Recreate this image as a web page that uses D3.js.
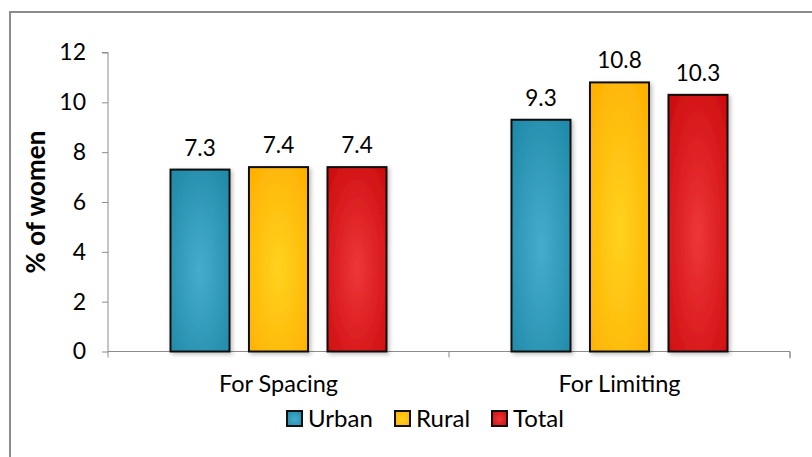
<!DOCTYPE html>
<html><head><meta charset="utf-8">
<script src="https://cdn.jsdelivr.net/npm/d3@7"></script>
<style>body{margin:0;background:#fff}svg{display:block}</style>
</head><body>
<script>
const categories = ["For Spacing", "For Limiting"];
const seriesNames = ["Urban", "Rural", "Total"];
const urban = [7.3, 9.3];
const rural = [7.4, 10.8];
const total = [7.4, 10.3];
const yTicks = [0, 2, 4, 6, 8, 10, 12];
const yTitle = "% of women";

const W = 812, H = 457;
const font = "'Gill Sans','Gill Sans MT',Lato,sans-serif";
const svg = d3.select("body").append("svg").attr("width", W).attr("height", H);

const colors = {
  Urban: {edge: "#1E87A6", mid: "#45ACCD"},
  Rural: {edge: "#FFAE00", mid: "#FFD21E"},
  Total: {edge: "#CB0A0C", mid: "#EE3638"}
};
const defs = svg.append("defs");
seriesNames.forEach(s => {
  const g = defs.append("radialGradient").attr("id", "g" + s)
    .attr("cx", "50%").attr("cy", "55%").attr("r", "75%");
  g.append("stop").attr("offset", "0%").attr("stop-color", colors[s].mid);
  g.append("stop").attr("offset", "100%").attr("stop-color", colors[s].edge);
});
const f = defs.append("filter").attr("id", "sh").attr("x", "-20%").attr("y", "-10%").attr("width", "150%").attr("height", "130%");
f.append("feDropShadow").attr("dx", 2).attr("dy", 2).attr("stdDeviation", 2).attr("flood-color", "#000").attr("flood-opacity", 0.25);

// outer border
svg.append("rect").attr("x", 10).attr("y", 12).attr("width", W + 20).attr("height", H + 20)
  .attr("fill", "none").attr("stroke", "#8c8c8c").attr("stroke-width", 2);

const m = {left: 108, right: 790, top: 52.5, bottom: 351.5};
const x0 = d3.scaleBand().domain(categories).range([m.left, m.right]);
const x1 = d3.scaleBand().domain(seriesNames).range([0, x0.bandwidth()]).paddingInner(0.248).paddingOuter(0.796);
const y = d3.scaleLinear().domain([0, 12]).range([m.bottom, m.top]);

// y axis
const yAxis = svg.append("g").attr("transform", `translate(${m.left},0)`)
  .call(d3.axisLeft(y).tickValues(yTicks).tickSize(6).tickPadding(16).tickFormat(d3.format("d")));
yAxis.select(".domain").attr("stroke", "#8c8c8c").attr("d", `M-6,${m.top}H0V${m.bottom}`);
yAxis.selectAll(".tick line").attr("stroke", "#8c8c8c");
yAxis.selectAll("text").attr("font-family", font).attr("font-size", 23).attr("fill", "#000");

// x axis
const xAxis = svg.append("g").attr("transform", `translate(0,${m.bottom})`)
  .call(d3.axisBottom(x0).tickSize(0).tickPadding(0).tickFormat(() => ""));
xAxis.select(".domain").attr("stroke", "#8c8c8c").attr("d", `M${m.left},0H${m.right}V7`);
xAxis.selectAll(".tick").remove();
[m.left, x0("For Limiting"), m.right].forEach(v => {
  svg.append("line").attr("x1", v).attr("x2", v).attr("y1", m.bottom).attr("y2", m.bottom + 6).attr("stroke", "#8c8c8c");
});
svg.selectAll(".cat").data(categories).join("text")
  .attr("x", d => x0(d) + x0.bandwidth() / 2).attr("y", 392)
  .attr("text-anchor", "middle").attr("font-family", font).attr("font-size", 23.5).text(d => d);

// y title
svg.append("text").attr("transform", `translate(45,202) rotate(-90)`)
  .attr("text-anchor", "middle").attr("font-family", font).attr("font-weight", "bold")
  .attr("font-size", 26).text(yTitle);

// bars
const vals = {Urban: urban, Rural: rural, Total: total};
const data = [];
categories.forEach((c, i) => seriesNames.forEach(s => data.push({c, s, v: vals[s][i]})));
svg.append("g").selectAll("rect").data(data).join("rect")
  .attr("x", d => x0(d.c) + x1(d.s)).attr("width", x1.bandwidth())
  .attr("y", d => y(d.v)).attr("height", d => y(0) - y(d.v))
  .attr("fill", d => `url(#g${d.s})`).attr("stroke", "#111").attr("stroke-width", 2)
  .attr("filter", "url(#sh)");
svg.append("g").selectAll("text").data(data).join("text")
  .attr("x", d => x0(d.c) + x1(d.s) + x1.bandwidth() / 2).attr("y", d => y(d.v) - 14)
  .attr("text-anchor", "middle").attr("font-family", font).attr("font-size", 22.5).text(d => d.v.toFixed(1));

// legend
const legX = [287, 395, 492];
const lg = svg.append("g").selectAll("g").data(seriesNames).join("g")
  .attr("transform", (d, i) => `translate(${legX[i]},411)`);
lg.append("rect").attr("width", 15).attr("height", 15).attr("fill", d => `url(#g${d})`)
  .attr("stroke", "#111").attr("stroke-width", 2);
lg.append("text").attr("x", 21).attr("y", 16).attr("font-family", font).attr("font-size", 24).text(d => d);
</script>
</body></html>
